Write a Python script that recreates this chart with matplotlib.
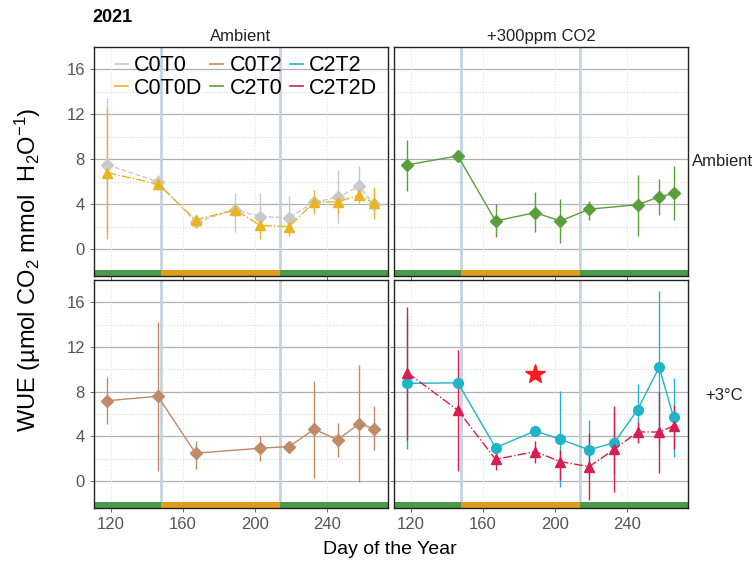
import numpy as np
import matplotlib.pyplot as plt
from matplotlib.lines import Line2D

plt.rcParams['font.family'] = ['Liberation Sans', 'DejaVu Sans']
plt.rcParams['mathtext.fontset'] = 'custom'
plt.rcParams['mathtext.rm'] = 'Liberation Sans'
plt.rcParams['mathtext.it'] = 'Liberation Sans:italic'

# sampling days
days10 = [118, 146, 167, 189, 203, 219, 233, 246, 258, 266]
days9_c2t0 = [118, 146, 167, 189, 203, 219, 246, 258, 266]
days9_c0t2 = [118, 146, 167, 203, 219, 233, 246, 258, 266]

# Ambient / Ambient
c0t0 = [7.5, 6.0, 2.4, 3.5, 2.9, 2.8, 4.2, 4.6, 5.6, 4.0]
c0t0_lo = [1.5, 5.4, 2.0, 1.5, 1.4, 1.4, 3.4, 2.3, 4.0, 3.0]
c0t0_hi = [13.5, 6.6, 2.8, 5.0, 5.0, 4.7, 4.9, 7.0, 7.4, 5.3]
c0t0d = [6.8, 5.8, 2.6, 3.5, 2.1, 2.0, 4.2, 4.2, 4.8, 4.1]
c0t0d_lo = [0.9, 5.3, 2.2, 3.2, 0.9, 1.2, 3.1, 3.1, 4.3, 2.7]
c0t0d_hi = [12.6, 6.3, 3.0, 3.8, 3.3, 2.8, 5.3, 5.2, 5.3, 5.5]

# +300ppm CO2 / Ambient
c2t0 = [7.5, 8.3, 2.5, 3.25, 2.5, 3.55, 3.95, 4.65, 4.95]
c2t0_lo = [5.2, 8.0, 1.1, 1.5, 0.5, 2.6, 1.2, 3.0, 2.55]
c2t0_hi = [9.7, 8.6, 4.05, 5.1, 4.5, 4.3, 6.6, 6.2, 7.4]

# Ambient / +3C
c0t2 = [7.2, 7.6, 2.5, 2.95, 3.1, 4.65, 3.7, 5.15, 4.7]
c0t2_lo = [5.1, 0.9, 1.1, 1.8, 2.8, 0.25, 2.2, -0.05, 2.8]
c0t2_hi = [9.35, 14.2, 3.6, 4.0, 3.4, 9.0, 5.2, 10.4, 6.7]

# +300ppm CO2 / +3C
c2t2 = [8.75, 8.8, 3.0, 4.5, 3.75, 2.8, 3.45, 6.4, 10.2, 5.7]
c2t2_lo = [2.9, 8.5, 2.7, 4.2, -0.5, 0.25, 0.7, 3.5, 3.4, 2.2]
c2t2_hi = [14.6, 9.1, 3.3, 4.8, 8.1, 5.5, 6.2, 8.7, 17.0, 9.2]
c2t2d = [9.7, 6.35, 1.95, 2.65, 1.75, 1.3, 2.85, 4.4, 4.4, 4.95]
c2t2d_lo = [3.7, 0.9, 1.0, 1.6, 0.1, -1.7, -0.95, 3.4, 0.7, 2.9]
c2t2d_hi = [15.6, 11.7, 2.5, 3.6, 2.8, 4.3, 6.7, 5.3, 8.0, 6.8]

star_day, star_val = 189, 9.6
period_edges = [110, 147.5, 214, 275]
period_cols = ['#4b9a4b', '#e39b1b', '#4b9a4b']

col = {'C0T0': '#c9c9c9', 'C0T0D': '#e8b51e', 'C0T2': '#c08a68',
       'C2T0': '#5b9e3c', 'C2T2': '#1fb4c6', 'C2T2D': '#d51f4f'}

fig = plt.figure(figsize=(7.56, 5.65), dpi=100)
W, H = 756, 565
def pos(l, t, r, b):
    return [l / W, 1 - b / H, (r - l) / W, (b - t) / H]

ax_tl = fig.add_axes(pos(94, 47, 388, 276))
ax_tr = fig.add_axes(pos(394, 47, 688, 276))
ax_bl = fig.add_axes(pos(94, 280, 388, 508))
ax_br = fig.add_axes(pos(394, 280, 688, 508))
axes = [ax_tl, ax_tr, ax_bl, ax_br]

for ax in axes:
    ax.set_xlim(110.5, 274)
    ax.set_ylim(-2.4, 18.0)
    for y in [0, 4, 8, 12, 16]:
        ax.axhline(y, color='#b0b0b0', lw=0.9, zorder=0)
    for y in [2, 6, 10, 14]:
        ax.axhline(y, color='#d8d8d8', lw=0.8, ls=':', zorder=0)
    for x in [120, 160, 200, 240]:
        ax.axvline(x, color='#e4e4e4', lw=0.8, ls=':', zorder=0)
    for x in period_edges[1:3]:
        ax.axvline(x, color='#c5d3e0', lw=2.0, zorder=0.5)
    for i in range(3):
        ax.fill_between([period_edges[i], period_edges[i + 1]], -2.4, -1.85,
                        color=period_cols[i], lw=0, zorder=1)
    ax.set_xticks([120, 160, 200, 240])
    ax.set_yticks([0, 4, 8, 12, 16])
    ax.tick_params(colors='#555555', labelsize=12, length=3, width=0.6)
    for s in ax.spines.values():
        s.set_color('#222222')
        s.set_linewidth(1.0)

for ax in [ax_tl, ax_tr]:
    ax.tick_params(labelbottom=False)
for ax in [ax_tr, ax_br]:
    ax.tick_params(labelleft=False)


def series(ax, x, y, lo, hi, c, m, ls, ms):
    y = np.array(y); lo = np.array(lo); hi = np.array(hi)
    ax.errorbar(x, y, yerr=[y - lo, hi - y], color=c, marker=m, ls=ls,
                lw=1.0, ms=ms, elinewidth=1.0, capsize=0, zorder=3)


series(ax_tl, days10, c0t0, c0t0_lo, c0t0_hi, col['C0T0'], 'D', '--', 6)
series(ax_tl, days10, c0t0d, c0t0d_lo, c0t0d_hi, col['C0T0D'], '^', '-.', 7)
series(ax_tr, days9_c2t0, c2t0, c2t0_lo, c2t0_hi, col['C2T0'], 'D', '-', 6)
series(ax_bl, days9_c0t2, c0t2, c0t2_lo, c0t2_hi, col['C0T2'], 'D', '-', 6)
series(ax_br, days10, c2t2, c2t2_lo, c2t2_hi, col['C2T2'], 'o', '-', 7)
series(ax_br, days10, c2t2d, c2t2d_lo, c2t2d_hi, col['C2T2D'], '^', '-.', 7)
ax_br.plot(star_day, star_val, marker='*', color='#ff1a1a', ms=15, zorder=4)

# legend
names = ['C0T0', 'C0T0D', 'C0T2', 'C2T0', 'C2T2', 'C2T2D']
handles = [Line2D([], [], color=col[n], lw=1.2) for n in names]
ax_tl.legend(handles, names, ncol=3, loc='upper left', bbox_to_anchor=(0.02, 1.03),
             frameon=False, fontsize=15.5, handlelength=0.6, handletextpad=0.3,
             columnspacing=0.35, labelspacing=0.08, borderaxespad=0.3)

# strips
ax_tl.set_title('Ambient', fontsize=12, color='#222222', pad=4)
ax_tr.set_title('+300ppm CO2', fontsize=12, color='#222222', pad=4)
fig.text(692 / W, 1 - 161 / H, 'Ambient', fontsize=12, color='#222222', va='center')
fig.text(705 / W, 1 - 396 / H, '+3°C', fontsize=12, color='#222222', va='center')
fig.text(92 / W, 1 - 17 / H, '2021', fontsize=13, fontweight='bold', va='center')

fig.text(28 / W, 1 - 270 / H, 'WUE (µmol CO$_2$ mmol  H$_2$O$^{-1}$)', fontsize=17,
         rotation=90, ha='center', va='center')
fig.text(390 / W, 1 - 549 / H, 'Day of the Year', fontsize=14, ha='center', va='center')

fig.savefig('out.png', dpi=100)
